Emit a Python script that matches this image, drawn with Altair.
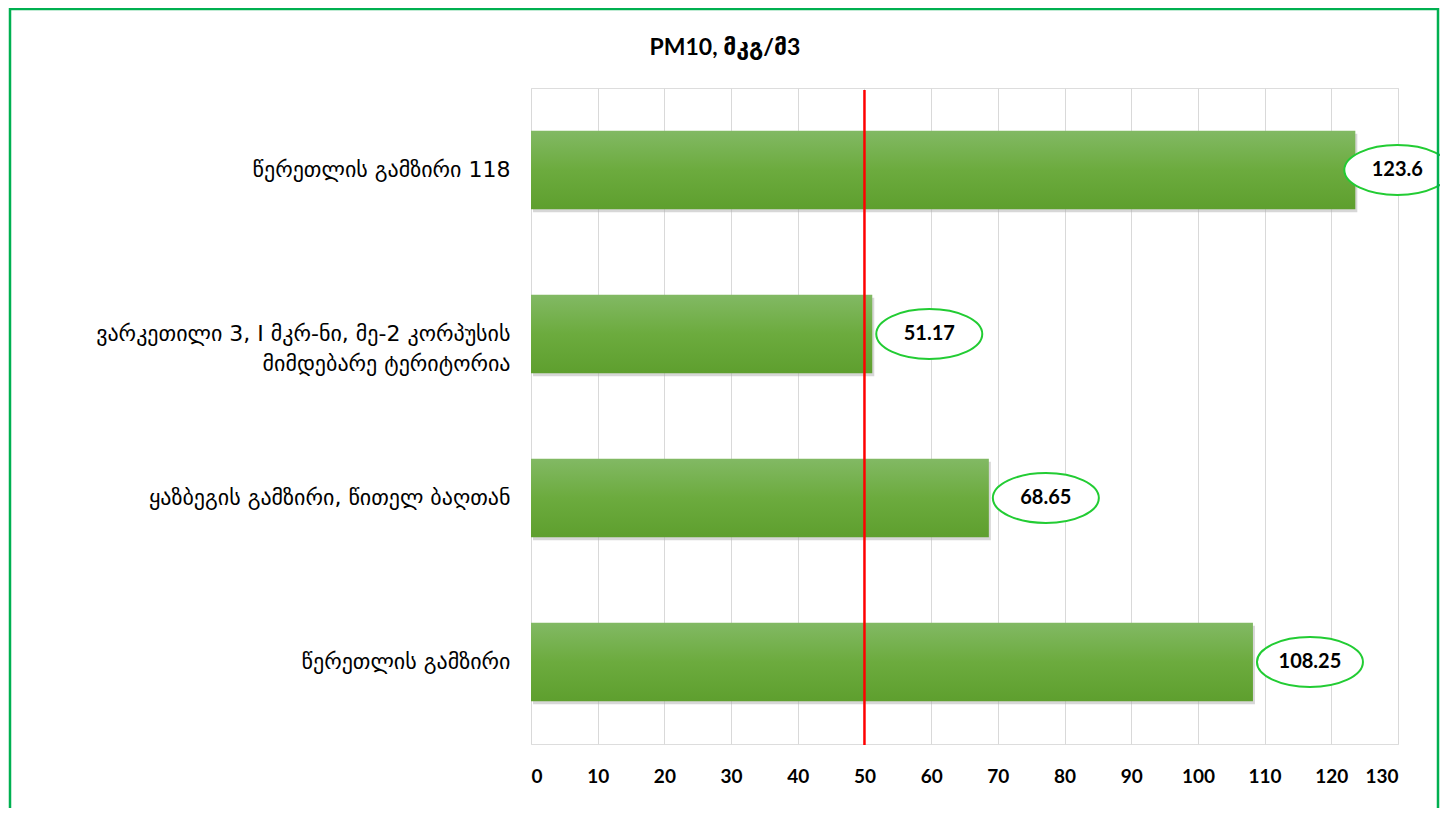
import altair as alt
import pandas as pd

categories = [
    "წერეთლის გამზირი 118",
    "ვარკეთილი 3, I მკრ-ნი, მე-2 კორპუსის|მიმდებარე ტერიტორია",
    "ყაზბეგის გამზირი, წითელ ბაღთან",
    "წერეთლის გამზირი",
]
values = [123.6, 51.17, 68.65, 108.25]
labels = ["123.6", "51.17", "68.65", "108.25"]
x_ticks = list(range(0, 131, 10))
limit = 50
title_text = "PM10, მკგ/მ3"

df = pd.DataFrame({"cat": categories, "val": values, "lab": labels})

W, H = 867, 656

xscale = alt.Scale(domain=[0, 130], nice=False, zero=True)
yscale = alt.Scale(domain=categories, paddingInner=0.52, paddingOuter=0.26)

base = alt.Chart(df)

y_enc = alt.Y(
    "cat:N",
    scale=yscale,
    sort=categories,
    title=None,
    axis=alt.Axis(
        labelExpr="split(datum.label, '|')",
        labelFont="DejaVu Sans",
        labelFontSize=22,
        labelColor="#000000",
        labelPadding=21,
        labelLineHeight=30,
        ticks=False,
        domain=False,
        labelLimit=500,
    ),
)

x_enc = alt.X(
    "val:Q",
    scale=xscale,
    title=None,
    axis=alt.Axis(
        values=x_ticks,
        labelFont="Lato",
        labelFontWeight="bold",
        labelFontSize=19,
        labelColor="#000000",
        labelPadding=23,
        ticks=False,
        domain=False,
        grid=True,
        gridColor="#d9d9d9",
        gridWidth=1,
    ),
)

shadow = base.mark_bar(color="#b0b0b0", opacity=0.5, xOffset=2, yOffset=3).encode(
    x=alt.X("val:Q", scale=xscale), y=alt.Y("cat:N", scale=yscale, sort=categories)
)

bars = base.mark_bar(
    color=alt.Gradient(
        gradient="linear",
        stops=[
            alt.GradientStop(color="#82b964", offset=0),
            alt.GradientStop(color="#6cab3e", offset=0.5),
            alt.GradientStop(color="#5e9f2e", offset=1),
        ],
        x1=0, x2=0, y1=0, y2=1,
    )
).encode(x=x_enc, y=y_enc)

rule = alt.Chart(pd.DataFrame({"lim": [limit]})).mark_rule(
    color="#ff0000", strokeWidth=2.5
).encode(x=alt.X("lim:Q", scale=xscale), y=alt.value(2), y2=alt.value(H + 1))

ellipse_path = "M-1,0 A1,0.47 0 1,0 1,0 A1,0.47 0 1,0 -1,0 Z"


def labels_layer(filt, off):
    sub = base.transform_filter(filt)
    ell = sub.mark_point(
        shape=ellipse_path,
        size=106 * 106,
        filled=True,
        fill="#ffffff",
        stroke="#22cc33",
        strokeWidth=2,
        opacity=1,
        xOffset=off,
    ).encode(
        x=alt.X("val:Q", scale=xscale),
        y=alt.Y("cat:N", scale=yscale, sort=categories),
    )
    txt = sub.mark_text(
        font="Lato", fontWeight="bold", fontSize=20, color="#000000", xOffset=off
    ).encode(
        x=alt.X("val:Q", scale=xscale),
        y=alt.Y("cat:N", scale=yscale, sort=categories),
        text="lab:N",
    )
    return [ell, txt]


lab_near_edge = labels_layer("datum.val > 120", 42)
lab_other = labels_layer("datum.val <= 120", 57)

border = alt.Chart(pd.DataFrame({"a": [0]})).mark_rect(
    fill=None, filled=False, stroke="#00b050", strokeWidth=2.5
).encode(
    x=alt.value(-521), x2=alt.value(907), y=alt.value(-79), y2=alt.value(760)
)

title = alt.Chart(pd.DataFrame({"t": [title_text]})).mark_text(
    font="Lato, DejaVu Sans", fontSize=23, fontWeight="bold", color="#000000"
).encode(text="t:N", x=alt.value(194), y=alt.value(-40))

chart = (
    alt.layer(shadow, bars, rule, *lab_other, *lab_near_edge, title, border)
    .properties(
        width=W,
        height=H,
        padding={"left": 523, "top": 80, "right": 42, "bottom": 64},
        autosize=alt.AutoSizeParams(type="none"),
    )
    .configure_view(stroke=None)
    .configure(background="#ffffff")
)

chart.save("out.html", embed_options={"renderer": "svg", "actions": False})
